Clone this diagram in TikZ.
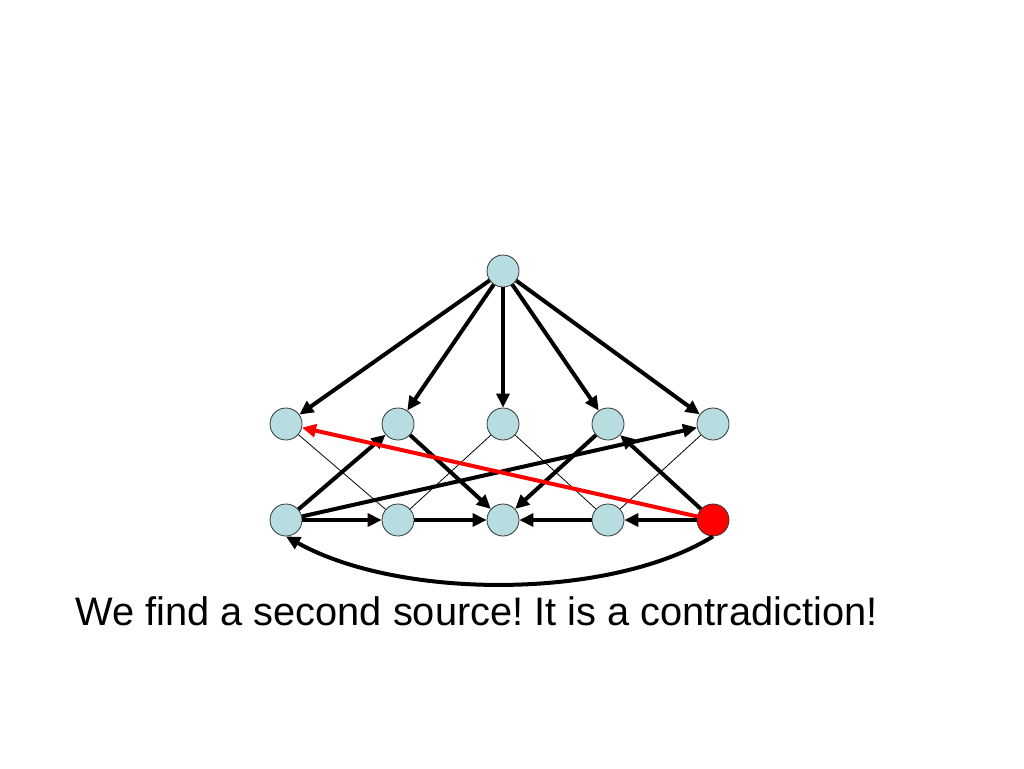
\documentclass[tikz,border=0pt]{standalone}
\usepackage{fontspec}
\setmainfont{Liberation Sans}
\usetikzlibrary{arrows.meta}
\definecolor{nodeblue}{RGB}{183,221,224}
\tikzset{
  vtx/.style={circle,draw=black!80,line width=0.8pt,fill=nodeblue,minimum size=32pt,inner sep=0pt},
  redvtx/.style={vtx,fill=red},
  thickarr/.style={line width=4pt,-{Triangle[length=14pt,width=13pt]}},
  redarr/.style={thickarr,draw=red},
  thinline/.style={line width=0.8pt}
}
\frenchspacing
\begin{document}
\begin{tikzpicture}[x=1pt,y=-1pt]
\useasboundingbox (0,0) rectangle (1024,768);
\node[vtx] (t) at (503,271) {};
\node[vtx] (m1) at (286,424) {};
\node[vtx] (m2) at (398,424) {};
\node[vtx] (m3) at (503,424) {};
\node[vtx] (m4) at (608,424) {};
\node[vtx] (m5) at (713,424) {};
\node[vtx] (b1) at (286,520) {};
\node[vtx] (b2) at (398,520) {};
\node[vtx] (b3) at (503,520) {};
\node[vtx] (b4) at (608,520) {};
\node[redvtx] (b5) at (713,520) {};
% thin lines
\draw[thinline] (m1) -- (b2);
\draw[thinline] (m3) -- (b2);
\draw[thinline] (m3) -- (b4);
\draw[thinline] (m5) -- (b4);
% top arrows
\foreach \m in {m1,m2,m3,m4,m5} \draw[thickarr] (t) -- (\m);
% cross arrows
\draw[thickarr] (b1) -- (m2);
\draw[thickarr] (m2) -- (b3);
\draw[thickarr] (b1) -- (m5);
\draw[thickarr] (m4) -- (b3);
\draw[thickarr] (b5) -- (m4);
\draw[redarr] (b5) -- (m1);
% bottom row
\draw[thickarr] (b1) -- (b2);
\draw[thickarr] (b2) -- (b3);
\draw[thickarr] (b4) -- (b3);
\draw[thickarr] (b5) -- (b4);
% curve
\draw[thickarr] (b5.south) .. controls (610,600) and (400,600) .. (b1.south);
% caption
\node[anchor=base west,inner sep=0pt,font=\fontsize{39.8}{48}\selectfont] (cap) at (75,625) {We find a second source! It is a contradiction!};
\end{tikzpicture}
\end{document}
